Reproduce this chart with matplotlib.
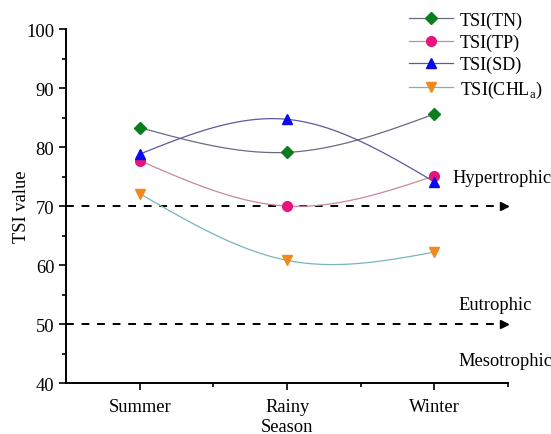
import numpy as np
import matplotlib
matplotlib.use("Agg")
import matplotlib.pyplot as plt
from matplotlib.ticker import MultipleLocator

seasons = ["Summer", "Rainy", "Winter"]
tsi_tn = [83.3, 79.1, 85.6]
tsi_tp = [77.7, 70.0, 75.1]
tsi_sd = [78.8, 84.7, 74.1]
tsi_chla = [72.1, 60.8, 62.2]
thresholds = [70, 50]
zone_labels = ["Hypertrophic", "Eutrophic", "Mesotrophic"]
zone_y = [74.8, 53.3, 43.8]

plt.rcParams['font.family'] = ['Liberation Serif', 'DejaVu Serif']
plt.rcParams['mathtext.fontset'] = 'custom'
plt.rcParams['mathtext.rm'] = 'Liberation Serif'

FS = 13.3

def natural_spline(x, y, n=100):
    x = np.asarray(x, float); y = np.asarray(y, float)
    m = len(x); h = np.diff(x)
    A = np.zeros((m, m)); b = np.zeros(m)
    A[0, 0] = A[-1, -1] = 1
    for i in range(1, m - 1):
        A[i, i - 1] = h[i - 1]; A[i, i] = 2 * (h[i - 1] + h[i]); A[i, i + 1] = h[i]
        b[i] = 3 * ((y[i + 1] - y[i]) / h[i] - (y[i] - y[i - 1]) / h[i - 1])
    c = np.linalg.solve(A, b)
    xs = np.linspace(x[0], x[-1], n); ys = np.empty_like(xs)
    for k, xv in enumerate(xs):
        i = min(np.searchsorted(x, xv, side='right') - 1, m - 2)
        dx = xv - x[i]
        bi = (y[i + 1] - y[i]) / h[i] - h[i] * (2 * c[i] + c[i + 1]) / 3
        di = (c[i + 1] - c[i]) / (3 * h[i])
        ys[k] = y[i] + bi * dx + c[i] * dx**2 + di * dx**3
    return xs, ys

fig = plt.figure(figsize=(5.51, 4.35), dpi=100)
ax = fig.add_axes([0.12, 0.117, 0.802, 0.814])
x = np.arange(1, len(seasons) + 1)

series = [
    (tsi_tn, "TSI(TN)", "D", "#0a7d1e", "#6a6a80"),
    (tsi_tp, "TSI(TP)", "o", "#e8147e", "#c8889a"),
    (tsi_sd, "TSI(SD)", "^", "#0a0aee", "#5a5aa0"),
    (tsi_chla, r"TSI(CHL$_\mathrm{a}$)", "v", "#f0891e", "#7ab6b6"),
]
handles = []
for vals, lab, mk, mc, lc in series:
    xs, ys = natural_spline(x, vals)
    ax.plot(xs, ys, color=lc, lw=0.9, zorder=2)
    ax.plot(x, vals, linestyle='none', marker=mk, color=mc, ms=7 if mk != 'D' else 6,
            clip_on=False, zorder=3)
    h, = ax.plot([], [], color=lc, lw=0.9, marker=mk, mfc=mc, mec=mc,
                 ms=7 if mk != 'D' else 6, label=lab)
    handles.append(h)

for t in thresholds:
    ax.plot([0.5, 3.45], [t, t], color='black', lw=1.4, ls=(0, (4, 4)), zorder=1)
    ax.plot([3.47], [t], marker='>', color='black', ms=6, clip_on=False, zorder=1)

zone_x = [3.125, 3.16, 3.16]
for lab, xv, yv in zip(zone_labels, zone_x, zone_y):
    ax.text(xv, yv, lab, ha='left', va='center', fontsize=FS)

ax.set_xlim(0.5, 3.5)
ax.set_ylim(40, 100)
ax.set_xticks(x)
ax.set_xticklabels(seasons, fontsize=FS)
ax.set_xticks([1.5, 2.5, 3.5], minor=True)
ax.yaxis.set_major_locator(MultipleLocator(10))
ax.yaxis.set_minor_locator(MultipleLocator(5))
ax.tick_params(axis='both', which='major', direction='out', length=5, width=1.2, labelsize=FS)
ax.tick_params(axis='x', which='major', pad=6)
ax.tick_params(axis='both', which='minor', direction='out', length=3, width=1.2)
for s in ['top', 'right']:
    ax.spines[s].set_visible(False)
for s in ['left', 'bottom']:
    ax.spines[s].set_linewidth(1.4)
ax.set_ylabel("TSI value", fontsize=FS, labelpad=-3)
ax.set_xlabel("Season", fontsize=FS, labelpad=2)

ax.legend(handles=handles, loc='upper left', bbox_to_anchor=(0.76, 1.07), frameon=False,
          fontsize=13, handlelength=2.4, labelspacing=0.28, borderaxespad=0, handletextpad=0.4)

fig.savefig("out.png", dpi=100)
